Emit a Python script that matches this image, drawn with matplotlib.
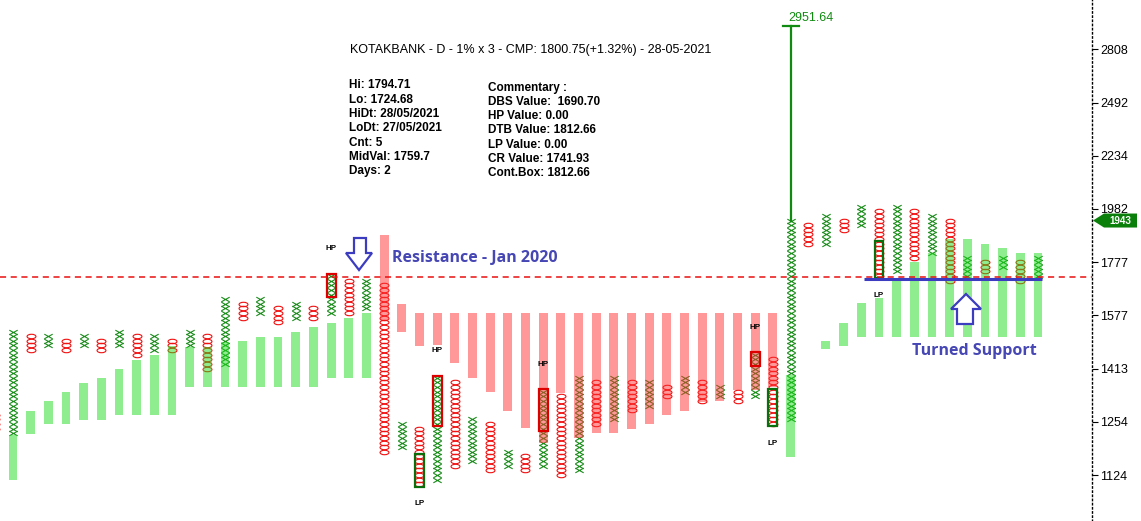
import numpy as np
import matplotlib
matplotlib.use("Agg")
import matplotlib.pyplot as plt
from matplotlib.path import Path
from matplotlib.markers import MarkerStyle
from matplotlib.patches import Rectangle, Polygon
from matplotlib.transforms import IdentityTransform
from matplotlib.ticker import NullLocator

plt.rcParams['font.family'] = ['Liberation Sans', 'DejaVu Sans']

W, H = 1141, 521

# ---- point & figure data (1% box, 3 box reversal) ----
box = 0.01
base = 1124.35              # lowest labelled box on the price scale
first_col = -1              # column -1 is clipped by the left edge
col_kind = ['O', 'X'] * 30
col_low = [1242.0, 1229.7, 1470.9, 1485.6, 1470.9, 1485.6, 1470.9, 1485.6, 1456.3, 1470.9,
           1470.9, 1485.6, 1413.5, 1427.6, 1577.0, 1592.8, 1561.4, 1577.0, 1577.0, 1592.8,
           1592.8, 1608.7, 1181.7, 1193.5, 1102.2, 1113.2, 1147.0, 1158.4, 1135.6, 1147.0,
           1135.6, 1147.0, 1124.4, 1135.6, 1254.4, 1266.9, 1292.4, 1305.3, 1331.6, 1344.9,
           1318.4, 1331.6, 1318.4, 1331.6, 1254.4, 1266.9, 1849.1, 1849.1, 1905.2, 1924.2,
           1724.7, 1741.9, 1794.7, 1812.7, 1707.6, 1724.7, 1741.9, 1759.3, 1707.6, 1724.7]
col_high = [1279.6, 1530.6, 1515.4, 1515.4, 1500.4, 1515.4, 1500.4, 1530.6, 1515.4, 1515.4,
            1500.4, 1530.6, 1515.4, 1641.0, 1624.8, 1641.0, 1608.7, 1624.8, 1608.7, 1724.7,
            1707.6, 1707.6, 1690.7, 1254.4, 1242.0, 1385.6, 1371.9, 1266.9, 1254.4, 1181.7,
            1170.0, 1344.9, 1331.6, 1385.6, 1371.9, 1385.6, 1371.9, 1371.9, 1358.3, 1385.6,
            1371.9, 1358.3, 1344.9, 1456.3, 1441.9, 1943.4, 1924.2, 1962.8, 1943.4, 2002.3,
            1982.5, 2002.3, 1982.5, 1962.8, 1943.4, 1794.7, 1776.9, 1794.7, 1776.9, 1794.7]

# background bars behind the columns
bar_cols = list(range(0, 45)) + list(range(46, 59))
bar_trend = ['up'] * 21 + ['down'] * 23 + ['up'] * 14
bar_low = [1112, 1228, 1254, 1254, 1265, 1265, 1279, 1279, 1279, 1279,
           1358, 1358, 1358, 1358, 1358, 1358, 1358, 1358, 1385, 1385,
           1385,
           1569, 1529, 1484, 1487, 1430, 1385, 1344, 1290, 1244, 1204,
           1341, 1217, 1230, 1230, 1241, 1254, 1279, 1290, 1315, 1318,
           1350, 1350, 1358,
           1168,
           1474, 1484, 1513, 1513, 1513, 1513, 1513, 1513, 1513, 1513, 1513, 1513, 1513]
bar_high = [1225, 1290, 1318, 1344, 1370, 1385, 1412, 1440, 1455, 1484,
            1480, 1480, 1496, 1500, 1513, 1513, 1529, 1545, 1559, 1576,
            1593,
            1884, 1624, 1593, 1593, 1593, 1593, 1593, 1593, 1593, 1593,
            1593, 1593, 1593, 1593, 1593, 1593, 1593, 1593, 1593, 1593,
            1593, 1593, 1593,
            1394,
            1500, 1559, 1627, 1645, 1710, 1777, 1812, 1867, 1867, 1847, 1832, 1812, 1812]

# high pole / low pole highlights: column, low box, high box, tag
pole_col = [18, 23, 24, 30, 42, 43, 49]
pole_low = [1657.4, 1102.2, 1254.4, 1242.0, 1427.6, 1254.4, 1724.7]
pole_high = [1724.7, 1170.0, 1385.6, 1344.9, 1456.3, 1344.9, 1849.1]
pole_tag = ['HP', 'LP', 'HP', 'HP', 'HP', 'LP', 'LP']

peak_col, peak_price = 44, 2951.64
resistance = 1721
support, support_cols = 1712, (48, 58)
last_price = 1943.4
tick_labels = ['1124', '1254', '1413', '1577', '1777', '1982', '2234', '2492', '2808']

info_left = ['Hi: 1794.71', 'Lo: 1724.68', 'HiDt: 28/05/2021', 'LoDt: 27/05/2021',
             'Cnt: 5', 'MidVal: 1759.7', 'Days: 2']
info_right = ['Commentary :', 'DBS Value:  1690.70', 'HP Value: 0.00', 'DTB Value: 1812.66',
              'LP Value: 0.00', 'CR Value: 1741.93', 'Cont.Box: 1812.66']
title = 'KOTAKBANK - D - 1% x 3 - CMP: 1800.75(+1.32%) - 28-05-2021'

GREEN = '#1a8c1a'
RED = '#f01010'
BLUE = '#3c3cc0'

fig = plt.figure(figsize=(W / 100, H / 100), dpi=100)
ax = fig.add_axes([0, 0, 1092 / W, 1])
ax.set_yscale('log')

px_box = 4.627   # pixels per box on the reference
ax.set_ylim(base * (1 + box) ** (-(H - 475) / px_box), base * (1 + box) ** (475 / px_box))
ax.set_xlim(-13 / 17.672, (1092 - 13) / 17.672)

# markers
x_path = Path([(-1, -0.56), (1, 0.56), (-1, 0.56), (1, -0.56)],
              [Path.MOVETO, Path.LINETO, Path.MOVETO, Path.LINETO])
circ = Path.unit_circle()
o_path = Path(circ.vertices * np.array([1, 0.5]), circ.codes)

xs_x, ys_x, xs_o, ys_o = [], [], [], []
for j, (kind, lo, hi) in enumerate(zip(col_kind, col_low, col_high)):
    c = first_col + j
    n = int(round(np.log(hi / lo) / np.log(1 + box)))
    lev = lo * (1 + box) ** np.arange(n + 1)
    if kind == 'X':
        xs_x += [c] * len(lev)
        ys_x += list(lev)
    else:
        xs_o += [c] * len(lev)
        ys_o += list(lev)

ax.plot(xs_x, ys_x, ls='none', marker=MarkerStyle(x_path), ms=6.0, mec=GREEN, mfc='none',
        mew=0.8, zorder=2)
ax.plot(xs_o, ys_o, ls='none', marker=MarkerStyle(o_path), ms=6.4, mec=RED, mfc='none',
        mew=0.8, zorder=2)

bar_colors = ['#21dd21' if t == 'up' else '#ff3333' for t in bar_trend]
ax.bar(bar_cols, np.array(bar_high) - np.array(bar_low), bottom=bar_low, width=0.5,
       color=bar_colors, alpha=0.5, zorder=3, linewidth=0)

half = np.sqrt(1 + box)
for c, lo, hi, tag in zip(pole_col, pole_low, pole_high, pole_tag):
    ec = '#dd0000' if tag == 'HP' else '#0a6e0a'
    ax.add_patch(Rectangle((c - 0.25, lo / half), 0.5, hi * half - lo / half, fill=False,
                           ec=ec, lw=1.6, zorder=5))
    if tag == 'HP':
        ax.annotate(tag, xy=(c, hi * half), xytext=(0, 25), textcoords='offset pixels',
                    ha='center', va='center', fontsize=5.8, fontweight='bold')
    else:
        ax.annotate(tag, xy=(c, lo / half), xytext=(0, -17), textcoords='offset pixels',
                    ha='center', va='center', fontsize=5.8, fontweight='bold')

# spike to the reversal target
ax.plot([peak_col, peak_col], [col_high[peak_col - first_col], peak_price], color='#118a11',
        lw=1.6, zorder=4)
ax.plot([peak_col - 0.45, peak_col + 0.45], [peak_price, peak_price], color='#118a11',
        lw=1.6, zorder=4)
ax.annotate(f'{peak_price:.2f}', xy=(peak_col - 0.15, peak_price), xytext=(0, 8),
            textcoords='offset pixels', ha='left', va='center', fontsize=9, color='#118a11')

ax.axhline(resistance, color='#e81010', ls=(0, (4, 3)), lw=1.1, zorder=6)
ax.plot([support_cols[0] + 0.15, support_cols[1] + 0.23], [support, support], color=BLUE,
        lw=2.2, zorder=6, solid_capstyle='butt')

# price axis on the right
ax.set_yticks(np.geomspace(base, base * (1 + box) ** 92, 9))
ax.set_yticklabels(tick_labels)
ax.yaxis.set_minor_locator(NullLocator())
ax.yaxis.tick_right()
ax.tick_params(axis='y', length=4, width=0.8, pad=2, labelsize=9)
ax.set_xticks([])
for s in ['top', 'left', 'bottom']:
    ax.spines[s].set_visible(False)
ax.spines['right'].set_linestyle((0, (1, 2)))
ax.spines['right'].set_linewidth(1.0)

# last price tag
yd = ax.transData.transform((0, last_price))[1]
fig.add_artist(Polygon([(1093, yd), (1104, yd + 7), (1137, yd + 7), (1137, yd - 7), (1104, yd - 7)],
                       closed=True, transform=IdentityTransform(), fc='#0a800a', ec='none',
                       zorder=10))
fig.text(1120 / W, yd / H, f'{last_price:.0f}', ha='center', va='center', color='white',
         fontsize=7, fontweight='bold', zorder=11)


def img_poly(pts):
    return Polygon([(x, H - y) for x, y in pts], closed=True, transform=IdentityTransform(),
                   fc='white', ec=BLUE, lw=1.6, zorder=10)


fig.add_artist(img_poly([(354, 238), (366, 238), (366, 253), (372, 253), (359, 270),
                         (346, 253), (354, 253)]))
fig.add_artist(img_poly([(966, 294), (981, 309), (973, 309), (973, 324), (957, 324),
                         (957, 309), (951, 309)]))

fig.text(392 / W, 1 - 258 / H, 'Resistance - Jan 2020', color='#4646b4', fontsize=11.5,
         fontweight='bold', va='center', ha='left', family=['Open Sans', 'DejaVu Sans'])
fig.text(912 / W, 1 - 351 / H, 'Turned Support', color='#4646b4', fontsize=11.5,
         fontweight='bold', va='center', ha='left', family=['Open Sans', 'DejaVu Sans'])

# header text
fig.text(350 / W, 1 - 50 / H, title, fontsize=9, va='center', ha='left')
for i, s in enumerate(info_left):
    fig.text(349 / W, 1 - (85.5 + 14.3 * i) / H, s, fontsize=8.5, fontweight='bold',
             va='center', ha='left')
for i, s in enumerate(info_right):
    fig.text(488 / W, 1 - (87.5 + 14.3 * i) / H, s, fontsize=8.5, fontweight='bold',
             va='center', ha='left')

fig.savefig('out.png', dpi=100, facecolor='white')
